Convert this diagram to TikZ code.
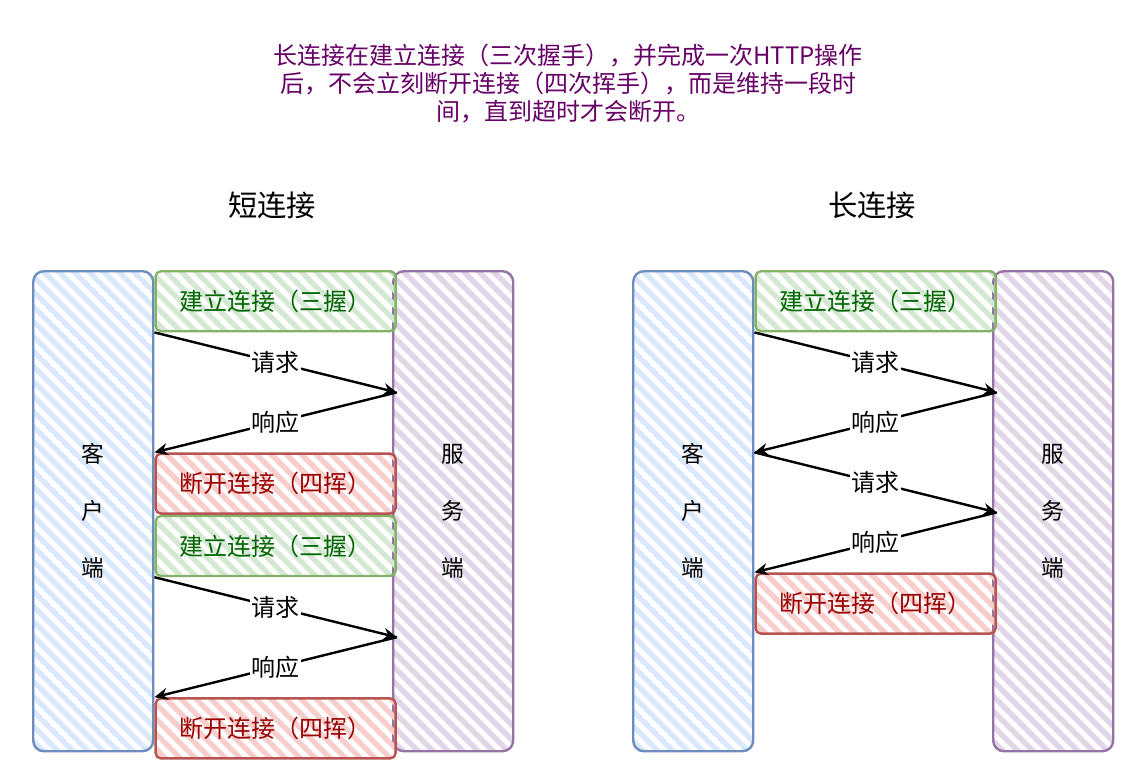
\documentclass[tikz,border=0pt]{standalone}
\usepackage{fontspec}
\setmainfont{Noto Sans CJK SC}
\usetikzlibrary{positioning,arrows.meta,calc}
\definecolor{kehuFill}{HTML}{DAE8FC}
\definecolor{kehuLine}{HTML}{6C8EBF}
\definecolor{fuwuFill}{HTML}{E1D5E7}
\definecolor{fuwuLine}{HTML}{9673A6}
\definecolor{jianliFill}{HTML}{D5E8D4}
\definecolor{jianliLine}{HTML}{82B366}
\definecolor{jianliText}{HTML}{006600}
\definecolor{duankaiFill}{HTML}{F8CECC}
\definecolor{duankaiLine}{HTML}{B85450}
\definecolor{duankaiText}{HTML}{990000}
\definecolor{noteText}{HTML}{660066}
\tikzset{
  hatch/.style 2 args={draw=#1, line width=1.8pt, path picture={
      \foreach \k in {-34,...,17}
        \draw[draw=#2, line width=4pt] ($(path picture bounding box.north west)+(\k*15,-10)$) -- ++(520,520);
    }},
  side/.style={minimum width=90pt, minimum height=360pt, inner sep=0pt, rounded corners=8pt, align=center,
    font=\fontsize{17}{42.75}\selectfont},
  kehu/.style={side, hatch={kehuLine}{kehuFill}},
  fuwu/.style={side, hatch={fuwuLine}{fuwuFill}},
  phase/.style={minimum width=180pt, minimum height=45pt, inner sep=0pt, rounded corners=4pt,
    font=\fontsize{18}{20}\selectfont},
  jianli/.style={phase, hatch={jianliLine}{jianliFill}, text=jianliText},
  duankai/.style={phase, hatch={duankaiLine}{duankaiFill}, text=duankaiText},
  msg/.style={fill=white, inner sep=1pt, font=\fontsize{18}{20}\selectfont},
  arrow/.style={->, line width=1.8pt},
  heading/.style={font=\fontsize{22}{26}\selectfont},
  note/.style={align=center, text=noteText, font=\fontsize{18}{21}\selectfont}
}

\begin{document}
\begin{tikzpicture}[x=0.75pt,y=-0.75pt,>={Stealth[length=10pt,width=9pt]}]
  \useasboundingbox (0,0) rectangle (1143,783);

  \node[note] (shuoming) at (568,84) {长连接在建立连接（三次握手），并完成一次HTTP操作\\后，不会立刻断开连接（四次挥手），而是维持一段时\\间，直到超时才会断开。};

  % short connection
  \node[heading] (duanT) at (272,205) {短连接};
  \node[kehu, anchor=north west] (kehuA) at (32,270) {客\\户\\端};
  \node[fuwu, anchor=north west] (fuwuA) at (392,270) {服\\务\\端};
  \node[jianli, anchor=north west] (jianliA) at (kehuA.north east) {建立连接（三握）};
  \node[duankai, below=90pt of jianliA] (duankaiA) {断开连接（四挥）};
  \node[jianli, below=0pt of duankaiA] (jianliB) {建立连接（三握）};
  \node[duankai, below=90pt of jianliB] (duankaiB) {断开连接（四挥）};

  \coordinate (qA) at ($(jianliA.south east)+(0,60)$);
  \coordinate (qB) at ($(jianliB.south east)+(0,60)$);
  \draw[arrow] (jianliA.south west) -- node[msg] {请求} (qA);
  \draw[arrow] (qA) -- node[msg] {响应} (duankaiA.north west);
  \draw[arrow] (jianliB.south west) -- node[msg] {请求} (qB);
  \draw[arrow] (qB) -- node[msg] {响应} (duankaiB.north west);

  % long connection
  \node[heading] (changT) at (872,205) {长连接};
  \node[kehu, anchor=north west] (kehuC) at (632,270) {客\\户\\端};
  \node[fuwu, anchor=north west] (fuwuC) at (992,270) {服\\务\\端};
  \node[jianli, anchor=north west] (jianliC) at (kehuC.north east) {建立连接（三握）};
  \node[duankai, below=180pt of jianliC] (duankaiC) {断开连接（四挥）};

  \coordinate (qC) at ($(jianliC.south east)+(0,60)$);
  \coordinate (rC) at ($(jianliC.south west)+(0,120)$);
  \coordinate (sC) at ($(jianliC.south east)+(0,180)$);
  \draw[arrow] (jianliC.south west) -- node[msg] {请求} (qC);
  \draw[arrow] (qC) -- node[msg] {响应} (rC);
  \draw[arrow] (rC) -- node[msg] {请求} (sC);
  \draw[arrow] (sC) -- node[msg] {响应} (duankaiC.north west);
\end{tikzpicture}
\end{document}
